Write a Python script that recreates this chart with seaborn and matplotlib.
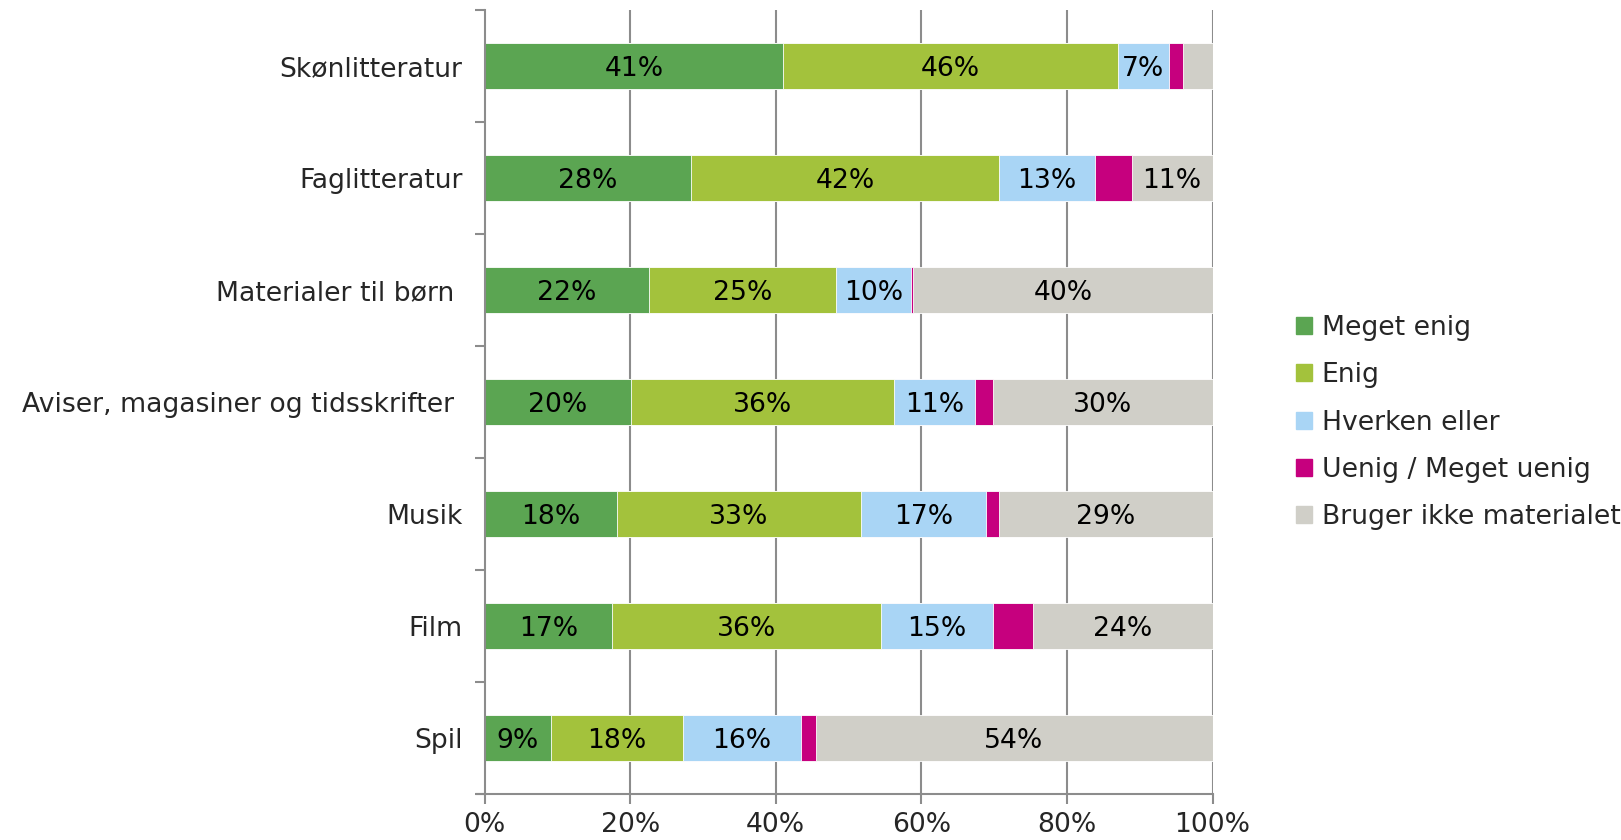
import matplotlib.pyplot as plt
import matplotlib.patches as mpatches
from matplotlib.ticker import FixedLocator
import seaborn as sns
import pandas as pd
import numpy as np

categories = ['Skønlitteratur', 'Faglitteratur', 'Materialer til børn ',
              'Aviser, magasiner og tidsskrifter ', 'Musik', 'Film', 'Spil']
series = ['Meget enig', 'Enig', 'Hverken eller', 'Uenig / Meget uenig',
          'Bruger ikke materialet']
meget_enig = [41, 28, 22, 20, 18, 17, 9]
enig = [46, 42, 25, 36, 33, 36, 18]
hverken = [7, 13, 10, 11, 17, 15, 16]
uenig = [2, 5, 0.3, 2.5, 1.7, 5.3, 2]
bruger_ikke = [4, 11, 40, 30, 29, 24, 54]
colors = ['#5BA552', '#A3C23C', '#A9D5F5', '#C6007E', '#D0CFC8']

raw = pd.DataFrame({'Kategori': categories, series[0]: meget_enig, series[1]: enig,
                    series[2]: hverken, series[3]: uenig, series[4]: bruger_ikke})
vals = raw[series].to_numpy(dtype=float)
pct = vals / vals.sum(axis=1, keepdims=True) * 100
cum = np.cumsum(pct, axis=1)

sns.set_style('white')
plt.rcParams['font.family'] = ['DejaVu Sans']
fs = 19.2

fig = plt.figure(figsize=(16.21, 8.40), dpi=100)
ax = fig.add_axes([0.299, 0.055, 0.449, 0.933])

# vertical grid behind bars
for x in [20, 40, 60, 80, 100]:
    ax.axvline(x, color='#8c8c8c', lw=1.5, zorder=0)

# layered cumulative bars (stacked look)
for i in range(len(series) - 1, -1, -1):
    d = pd.DataFrame({'Kategori': categories, 'v': cum[:, i]})
    sns.barplot(data=d, x='v', y='Kategori', order=categories, color=colors[i],
                orient='h', width=0.41, saturation=1, ax=ax, zorder=2,
                edgecolor='white', linewidth=0.6)

# data labels
for r in range(len(categories)):
    for i in range(len(series)):
        if i == 3 or vals[r, i] < 5:
            continue
        start = cum[r, i] - pct[r, i]
        ax.text(start + pct[r, i] / 2, r, f'{vals[r, i]:.0f}%', ha='center',
                va='center_baseline', fontsize=fs, color='black', zorder=3)

ax.set_xlim(0, 100)
ax.set_ylim(6.5, -0.5)
ax.set_xlabel('')
ax.set_ylabel('')
ax.set_xticks([0, 20, 40, 60, 80, 100])
ax.set_xticklabels(['0%', '20%', '40%', '60%', '80%', '100%'], fontsize=fs)
ax.tick_params(axis='x', direction='out', length=7, width=1.5, color='#8c8c8c',
               bottom=True, pad=6)
ax.tick_params(axis='y', which='major', length=0, pad=16, labelsize=fs)
ax.yaxis.set_minor_locator(FixedLocator(np.arange(-0.5, 7, 1)))
ax.tick_params(axis='y', which='minor', direction='out', length=7, width=1.5,
               color='#8c8c8c', left=True)
for s in ['top', 'right']:
    ax.spines[s].set_visible(False)
for s in ['left', 'bottom']:
    ax.spines[s].set_color('#8c8c8c')
    ax.spines[s].set_linewidth(1.5)
ax.spines['bottom'].set_bounds(-1.0, 100)

handles = [mpatches.Patch(color=c, label=l) for c, l in zip(colors, series)]
fig.legend(handles=handles, loc='center left', bbox_to_anchor=(0.785, 0.497),
           frameon=False, fontsize=fs, handlelength=0.6, handleheight=0.6,
           handletextpad=0.35, labelspacing=0.8)

fig.savefig('out.png', dpi=100)
